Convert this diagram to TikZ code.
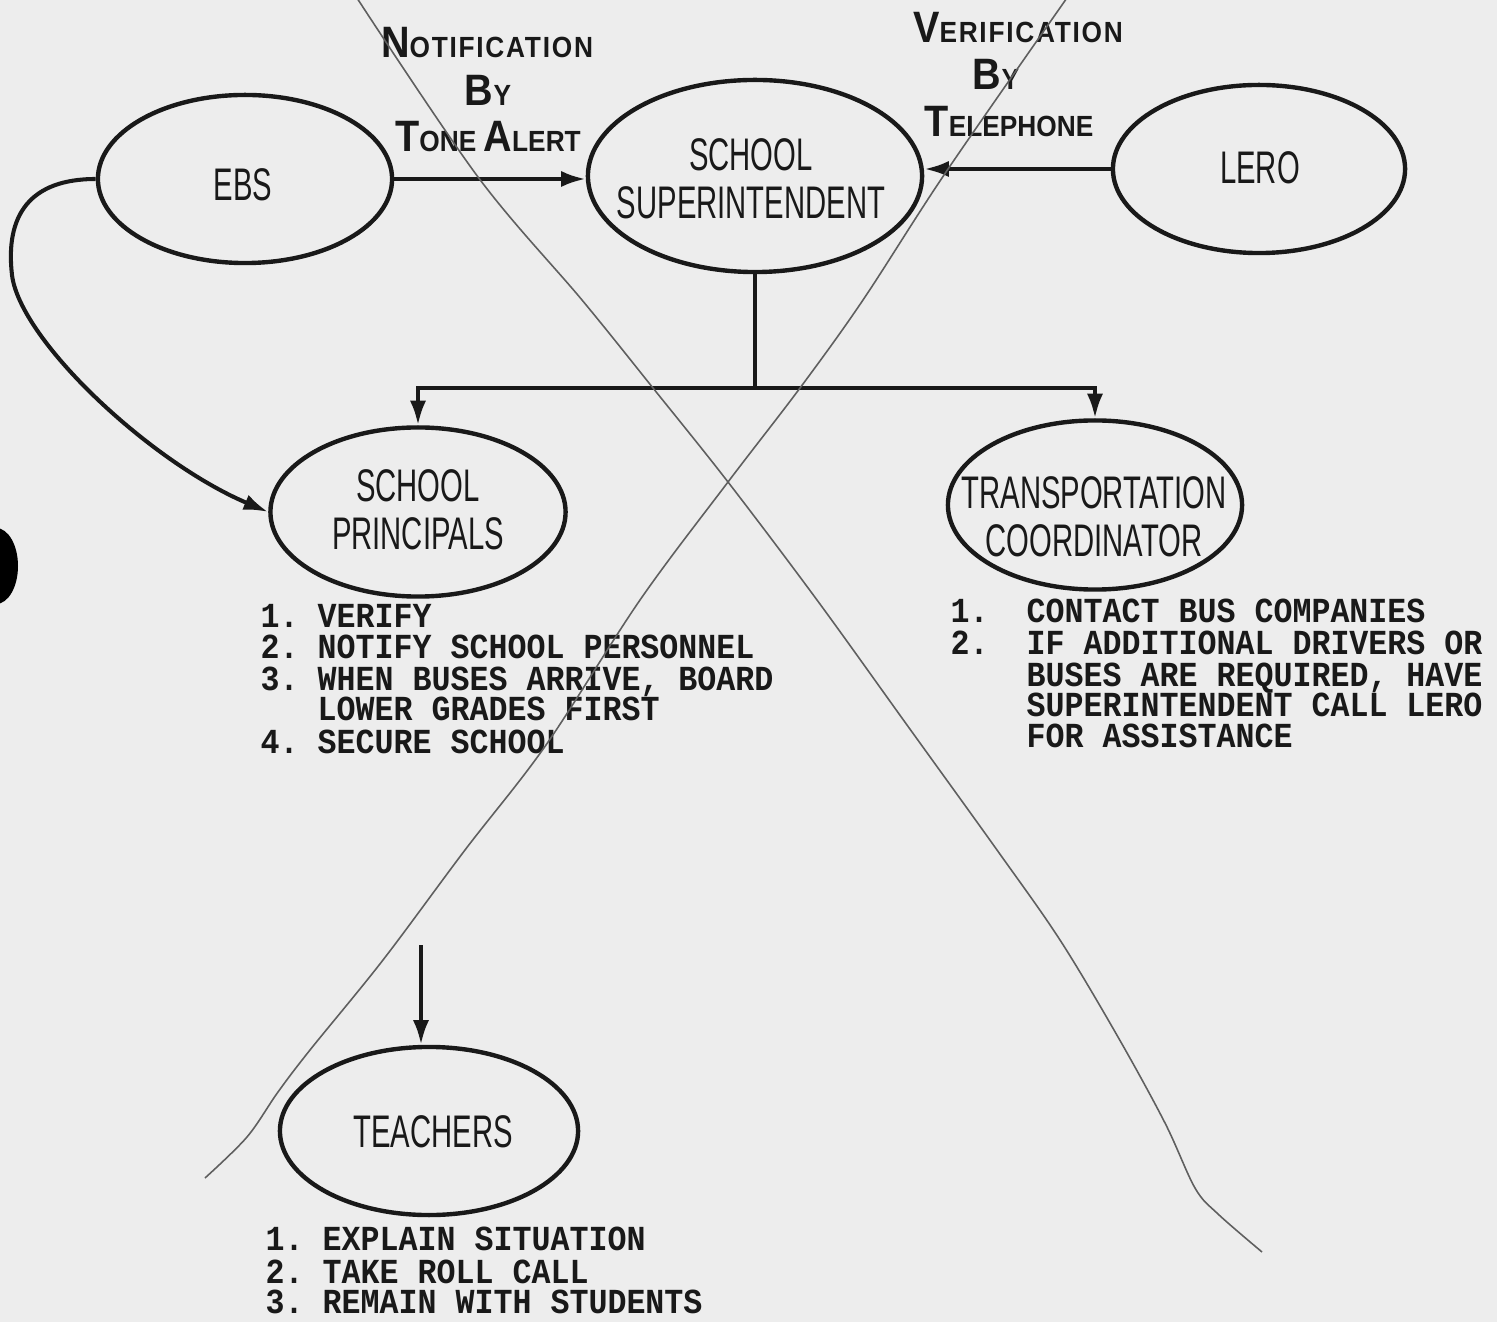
\documentclass[tikz,border=0pt]{standalone}
\usepackage{fontspec}
\usetikzlibrary{shapes.geometric,arrows.meta}
\newfontfamily\ellfont[FakeStretch=0.64]{Liberation Sans}
\newfontfamily\labfont[FakeStretch=0.9]{Liberation Sans}
\newfontfamily\listfont[FakeStretch=0.9]{Liberation Mono}
\newcommand\Lc[1]{{\fontsize{12.5}{12.5}\selectfont #1}}
\definecolor{bg}{RGB}{237,237,237}
\definecolor{ink}{RGB}{25,25,25}
\definecolor{pencil}{RGB}{95,95,95}
\begin{document}
\begin{tikzpicture}[x=0.01cm,y=-0.01cm,
  ell/.style={draw=ink,line width=1.25pt,ellipse,inner sep=0pt},
  etxt/.style={text=ink,inner sep=0pt,align=center,font=\ellfont\fontsize{13}{13.6}\selectfont},
  lab/.style={text=ink,inner sep=0pt,anchor=base,font=\labfont\bfseries\fontsize{8.3}{8.3}\selectfont},
  litem/.style={text=ink,inner sep=0pt,anchor=base west,font=\listfont\bfseries\fontsize{10}{10}\selectfont\frenchspacing},
  conn/.style={draw=ink,line width=1.15pt},
  arr/.style={conn,-{Latex[length=7pt,width=4.6pt]}},
  xline/.style={draw=pencil,line width=0.45pt}]
\fill[bg] (0,0) rectangle (1497,1322);
\useasboundingbox (0,0) rectangle (1497,1322);

% scan blob at left edge
\fill[black] (-4,566) ellipse (22 and 38);

% ellipses
\node[ell,minimum width=2.94cm,minimum height=1.68cm] (ebs) at (245,179) {};
\node[ell,minimum width=3.34cm,minimum height=1.92cm] (sup) at (755,176) {};
\node[ell,minimum width=2.92cm,minimum height=1.68cm] (lero) at (1259,169) {};
\node[ell,minimum width=2.95cm,minimum height=1.69cm] (prin) at (418,512) {};
\node[ell,minimum width=2.94cm,minimum height=1.69cm] (trans) at (1095,505) {};
\node[ell,minimum width=2.98cm,minimum height=1.68cm] (teach) at (429,1131) {};

% ellipse texts
\node[etxt] (ebsT) at (243,185) {EBS};
\node[etxt] (supT) at (751,179) {SCHOOL\\SUPERINTENDENT};
\node[etxt] (leroT) at (1260,168) {LERO};
\node[etxt] (prinT) at (418,510) {SCHOOL\\PRINCIPALS};
\node[etxt] (transT) at (1094,517) {TRANSPORTATION\\COORDINATOR};
\node[etxt] (teachT) at (433,1132) {TEACHERS};

% arrow labels
\node[lab] (n1) at (487,58) {\addfontfeature{LetterSpace=6}\Lc{N}OTIFICATION};
\node[lab] (n2) at (488,106) {\Lc{B}Y};
\node[lab] (n3) at (488,152) {\Lc{T}ONE \Lc{A}LERT};
\node[lab] (v1) at (1018,43) {\addfontfeature{LetterSpace=6}\Lc{V}ERIFICATION};
\node[lab] (v2) at (996,90) {\Lc{B}Y};
\node[lab] (v3) at (1009,137) {\Lc{T}ELEPHONE};

% connectors
\draw[arr] (ebs.east) -- (ebs.east -| sup.west);
\draw[arr] (lero.west) -- (lero.west -| sup.east);
\coordinate (bus) at (755,388);
\draw[conn] (sup.south) -- (bus);
\draw[arr] (bus) -| (prin.north);
\draw[arr] (bus) -| (trans.north);
\draw[arr] (ebs.west) .. controls (30,179) and (5,215) .. (12,275)
   .. controls (20,340) and (150,462) .. (prin.west);
\coordinate (tstart) at (421,945);
\draw[arr] (tstart) -- (tstart |- teach.north);

% principals list
\node[litem] (p1) at (260,628) {1. VERIFY};
\node[litem] (p2) at (260,659) {2. NOTIFY SCHOOL PERSONNEL};
\node[litem] (p3) at (260,690) {3. WHEN BUSES ARRIVE, BOARD};
\node[litem] (p4) at (260,721) {\phantom{3. }LOWER GRADES FIRST};
\node[litem] (p5) at (260,754) {4. SECURE SCHOOL};

% transportation list
\node[litem] (t1) at (950,623) {1.~~CONTACT BUS COMPANIES};
\node[litem] (t2) at (950,655) {2.~~IF ADDITIONAL DRIVERS OR};
\node[litem] (t3) at (950,686) {\phantom{1.~~}BUSES ARE REQUIRED, HAVE};
\node[litem] (t4) at (950,717) {\phantom{1.~~}SUPERINTENDENT CALL LERO};
\node[litem] (t5) at (950,748) {\phantom{1.~~}FOR ASSISTANCE};

% teachers list
\node[litem] (c1) at (265,1250) {1. EXPLAIN SITUATION};
\node[litem] (c2) at (265,1283) {2. TAKE ROLL CALL};
\node[litem] (c3) at (265,1313) {3. REMAIN WITH STUDENTS};

% pencil cross-out lines
\draw[xline] plot[smooth,tension=0.55] coordinates {(355,-5) (478,177) (582,300) (653,388) (728,482) (817,600) (907,725) (997,850) (1060,940) (1118,1037) (1165,1123) (1195,1188) (1218,1214) (1262,1252)};
\draw[xline] plot[smooth,tension=0.55] coordinates {(1069,-5) (946,172) (863,300) (800,388) (728,482) (640,600) (546,745) (465,850) (383,960) (310,1050) (278,1092) (247,1137) (205,1178)};
\end{tikzpicture}
\end{document}
